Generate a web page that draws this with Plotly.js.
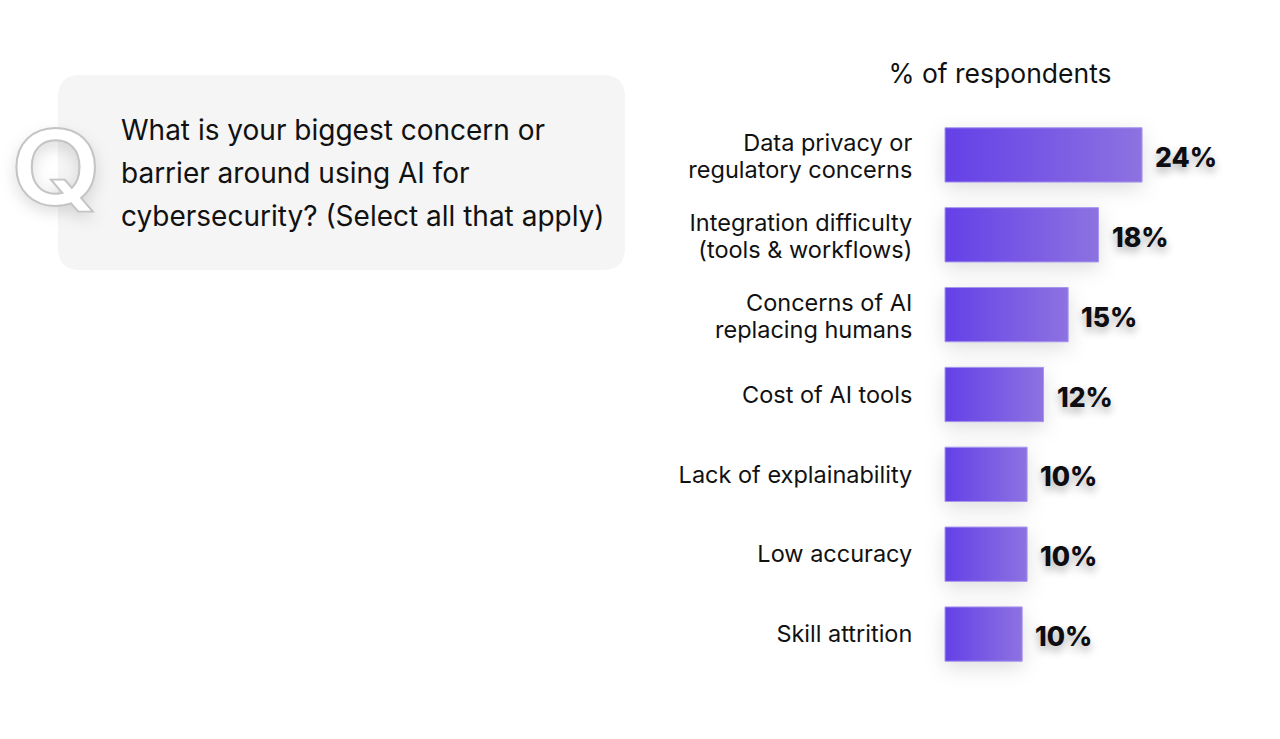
<!DOCTYPE html>
<html>
<head>
<meta charset="utf-8">
<script src="https://cdn.plot.ly/plotly-3.0.1.min.js"></script>
<style>
  html, body { margin: 0; padding: 0; background: #ffffff; }
  #chart { width: 1280px; height: 739px; }
  #chart svg { overflow: visible; }
</style>
</head>
<body>
<div id="chart"></div>
<script>
// ---- data ----
const categories = [
  "Data privacy or<br>regulatory concerns",
  "Integration difficulty<br>(tools & workflows)",
  "Concerns of AI<br>replacing humans",
  "Cost of AI tools",
  "Lack of explainability",
  "Low accuracy",
  "Skill attrition"
];
const values = [24.0, 18.7, 15.0, 12.0, 10.0, 10.0, 9.4];
const valueLabels = ["24%", "18%", "15%", "12%", "10%", "10%", "10%"];
const axisTitle = "% of respondents";
const questionLines = [
  "What is your biggest concern or",
  "barrier around using AI for",
  "cybersecurity? (Select all that apply)"
];
const questionMark = "Q";

// ---- layout geometry (pixels) ----
const W = 1280, H = 739;
const mL = 945, mR = 20, mT = 115, mB = 65;
const pw = W - mL - mR, ph = H - mT - mB;
const px2x = p => (p - mL) / pw;
const py2y = p => (H - mB - p) / ph;

function roundRectPath(x0, y0, x1, y1, r) {
  const X = px2x, Y = py2y;
  return [
    `M ${X(x0 + r)} ${Y(y0)}`,
    `L ${X(x1 - r)} ${Y(y0)}`,
    `Q ${X(x1)} ${Y(y0)} ${X(x1)} ${Y(y0 + r)}`,
    `L ${X(x1)} ${Y(y1 - r)}`,
    `Q ${X(x1)} ${Y(y1)} ${X(x1 - r)} ${Y(y1)}`,
    `L ${X(x0 + r)} ${Y(y1)}`,
    `Q ${X(x0)} ${Y(y1)} ${X(x0)} ${Y(y1 - r)}`,
    `L ${X(x0)} ${Y(y0 + r)}`,
    `Q ${X(x0)} ${Y(y0)} ${X(x0 + r)} ${Y(y0)}`,
    'Z'
  ].join(' ');
}

const fontMain = "Inter, Noto Sans, Roboto, sans-serif";

const trace = {
  type: 'bar',
  orientation: 'h',
  y: categories,
  x: values,
  marker: { color: '#7554e4', line: { color: '#a796ee', width: 1 } },
  hoverinfo: 'skip',
  cliponaxis: false
};

const annotations = [];
values.forEach((v, i) => {
  annotations.push({
    x: v, y: categories[i], xref: 'x', yref: 'y',
    text: valueLabels[i], showarrow: false,
    xanchor: 'left', yanchor: 'middle', xshift: 11, yshift: -2,
    font: { family: fontMain, size: 26.5, color: '#0d0d12', weight: 800,
            shadow: '0px 5px 9px rgba(0,0,0,0.32)' }
  });
});
const qTops = [130, 173, 216];
questionLines.forEach((t, i) => {
  annotations.push({
    x: px2x(119), y: py2y(qTops[i]), xref: 'paper', yref: 'paper',
    text: t, showarrow: false, xanchor: 'left', yanchor: 'middle',
    font: { family: fontMain, size: 28, color: '#111111' }
  });
});

const layout = {
  width: W, height: H,
  margin: { l: mL, r: mR, t: mT, b: mB, pad: 0 },
  paper_bgcolor: '#ffffff', plot_bgcolor: 'rgba(0,0,0,0)',
  showlegend: false,
  bargap: 0.32,
  title: {
    text: axisTitle, x: 1000 / W, xanchor: 'center',
    y: 1 - 74 / H, yanchor: 'middle', yref: 'container', xref: 'container',
    font: { family: fontMain, size: 26.5, color: '#111111' }
  },
  xaxis: {
    range: [0, pw / 8.21], showgrid: false, zeroline: false,
    showticklabels: false, showline: false, ticks: '', fixedrange: true
  },
  yaxis: {
    type: 'category', categoryarray: categories, categoryorder: 'array',
    autorange: 'reversed', showgrid: false, zeroline: false, showline: false,
    ticks: 'outside', ticklen: 27, tickcolor: 'rgba(0,0,0,0)',
    tickfont: { family: fontMain, size: 23.5, color: '#111111' },
    fixedrange: true
  },
  shapes: [{
    type: 'path', xref: 'paper', yref: 'paper', layer: 'below',
    path: roundRectPath(58, 75, 625, 270, 22),
    fillcolor: '#f5f5f5', line: { width: 0 }
  }],
  annotations: annotations
};

Plotly.newPlot('chart', [trace], layout, { displayModeBar: false, staticPlot: true }).then(gd => {
  const ns = 'http://www.w3.org/2000/svg';
  const svg = gd.querySelector('svg.main-svg');
  let defs = svg.querySelector('defs');
  if (!defs) { defs = document.createElementNS(ns, 'defs'); svg.prepend(defs); }
  const grad = document.createElementNS(ns, 'linearGradient');
  grad.setAttribute('id', 'barGrad');
  grad.setAttribute('x1', '0'); grad.setAttribute('y1', '0');
  grad.setAttribute('x2', '1'); grad.setAttribute('y2', '0');
  [['0%', '#6440e7'], ['100%', '#8d72e1']].forEach(([o, c]) => {
    const s = document.createElementNS(ns, 'stop');
    s.setAttribute('offset', o); s.setAttribute('stop-color', c);
    grad.appendChild(s);
  });
  defs.appendChild(grad);
  // let bar shadows extend outside the plot area
  gd.querySelectorAll('.cartesianlayer [clip-path], .cartesianlayer [style*="clip-path"]').forEach(el => {
    el.removeAttribute('clip-path');
    el.style.clipPath = 'none';
  });
  gd.querySelectorAll('.barlayer .point path').forEach(p => {
    p.style.fill = 'url(#barGrad)';
    p.style.filter = 'drop-shadow(0px 6px 10px rgba(0,0,0,0.13))';
  });
  // tighten the line spacing of two-line tick labels
  gd.querySelectorAll('.ytick text').forEach(t => {
    const lines = t.querySelectorAll('tspan.line');
    if (lines.length === 2) {
      lines[1].setAttribute('dy', '1.15em');
      const tr = t.getAttribute('transform') || '';
      t.setAttribute('transform', (tr + ' translate(0,3.5)').trim());
    }
  });
  // outlined "Q" glyph next to the question box
  const q = document.createElementNS(ns, 'text');
  q.textContent = questionMark;
  q.setAttribute('x', '0');
  q.setAttribute('y', '0');
  q.setAttribute('transform', 'translate(56,205) scale(1.12,1)');
  q.setAttribute('text-anchor', 'middle');
  q.setAttribute('font-family', 'Inter, Noto Sans, sans-serif');
  q.setAttribute('font-weight', '600');
  q.setAttribute('font-size', '105');
  q.setAttribute('fill', '#ffffff');
  q.setAttribute('stroke', '#c4c4c4');
  q.setAttribute('stroke-width', '1.8');
  q.style.filter = 'drop-shadow(0px 6px 7px rgba(0,0,0,0.13))';
  svg.appendChild(q);
});
</script>
</body>
</html>
